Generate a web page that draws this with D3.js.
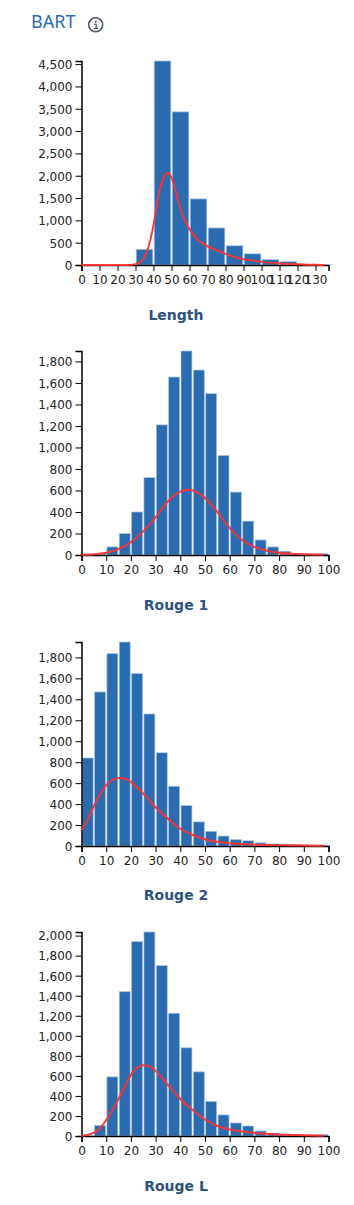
<!DOCTYPE html>
<html>
<head>
<meta charset="utf-8">
<script src="https://cdn.jsdelivr.net/npm/d3@7"></script>
<style>
   html, body { margin: 0; padding: 0; background: #fff; }
   svg { display: block; }
   .tick text { font-family: "DejaVu Sans", sans-serif; font-size: 12px; fill: #222; }
   .axis-label { font-family: "DejaVu Sans", sans-serif; font-size: 14px; font-weight: bold; fill: #2c5282; text-anchor: middle; }
   .title { font-family: "Noto Sans", sans-serif; font-size: 18px; fill: #2b6cb0; }
</style>
</head>
<body>
<div id="data"></div>
<script>
// chart names
const names = ["Length", "Rouge 1", "Rouge 2", "Rouge L"];

// bin start values
const lengthBins = [30, 40, 50, 60, 70, 80, 90, 100, 110, 120, 130];
const rougeBins = [0, 5, 10, 15, 20, 25, 30, 35, 40, 45, 50, 55, 60, 65, 70, 75, 80, 85, 90, 95];

// bar heights
const lengthCounts = [350, 4570, 3430, 1480, 830, 430, 250, 120, 75, 15, 3];
const rouge1Counts = [2, 8, 75, 200, 400, 720, 1210, 1655, 1897, 1720, 1500, 925, 585, 315, 140, 75, 35, 15, 10, 12];
const rouge2Counts = [840, 1470, 1835, 1947, 1645, 1260, 890, 570, 385, 230, 140, 95, 60, 50, 30, 20, 15, 12, 10, 8];
const rougeLCounts = [2, 105, 590, 1440, 1940, 2036, 1700, 1225, 880, 640, 345, 210, 130, 100, 50, 30, 20, 15, 10, 15];

// red curves, x then y
const lengthCurveX = [0, 25, 30, 33, 35, 38, 40, 43, 45, 47, 48, 50, 52, 55, 58, 60, 65, 70, 75, 80, 85, 90, 95, 100, 110, 120, 130, 135];
const lengthCurveY = [0, 0, 20, 80, 180, 520, 900, 1600, 1900, 2050, 2060, 1950, 1700, 1250, 950, 800, 550, 420, 330, 250, 180, 130, 100, 70, 35, 15, 5, 0];
const rouge1CurveX = [0, 5, 10, 15, 20, 25, 30, 35, 40, 43, 45, 50, 55, 60, 65, 70, 75, 80, 85, 90, 98];
const rouge1CurveY = [2, 7, 20, 55, 120, 220, 350, 500, 590, 607, 600, 530, 400, 250, 140, 75, 40, 20, 12, 7, 3];
const rouge2CurveX = [0, 2, 5, 8, 10, 13, 15, 18, 20, 25, 30, 35, 40, 45, 50, 55, 60, 65, 70, 80, 90, 98];
const rouge2CurveY = [150, 230, 380, 510, 580, 635, 650, 640, 610, 500, 370, 260, 165, 105, 65, 40, 27, 18, 12, 7, 4, 2];
const rougeLCurveX = [0, 3, 6, 8, 10, 13, 15, 18, 20, 23, 25, 28, 30, 35, 40, 45, 50, 55, 60, 65, 70, 80, 90, 98];
const rougeLCurveY = [2, 15, 45, 90, 160, 280, 370, 520, 610, 690, 705, 690, 650, 510, 370, 260, 165, 100, 65, 45, 30, 15, 8, 3];

// axis ticks
const lengthXTicks = d3.range(0, 131, 10);
const rougeXTicks = d3.range(0, 101, 10);
const lengthYTicks = d3.range(0, 4501, 500);
const rouge1YTicks = d3.range(0, 1801, 200);
const rouge2YTicks = d3.range(0, 1801, 200);
const rougeLYTicks = d3.range(0, 2001, 200);

// establish sizes
const wide = 354;
const high = 1205;
const left = 81.5;
const plotW = 247;
const plotH = 204;

const svg = d3.select("#data").append("svg").attr("width", wide).attr("height", high);

// title and info icon
svg.append("text").attr("class", "title").attr("x", 31).attr("y", 28).text("BART");
const info = svg.append("g").attr("transform", "translate(95.7,24.8)");
info.append("circle").attr("r", 7).attr("fill", "none").attr("stroke", "#4a5568").attr("stroke-width", 1.6);
info.append("circle").attr("cy", -3).attr("r", 1).attr("fill", "#4a5568");
info.append("path").attr("d", "M-1.5,-0.5H0.5V3.5M-1.5,3.5H2.5").attr("fill", "none").attr("stroke", "#4a5568").attr("stroke-width", 1.2);

function drawChart(cfg) {
   const g = svg.append("g").attr("transform", `translate(${left},${cfg.top})`);

   const x = d3.scaleLinear().domain([0, cfg.xMax]).range([0, plotW]);
   const y = d3.scaleLinear().domain([0, cfg.yMax]).range([plotH, 0]);

   // bars
   g.selectAll("rect")
      .data(cfg.bins)
      .enter()
      .append("rect")
      .attr("x", (d) => x(d) + 0.7)
      .attr("y", (d, i) => y(cfg.counts[i]))
      .attr("width", (d) => x(d + cfg.binW) - x(d) - 1.4)
      .attr("height", (d, i) => plotH - y(cfg.counts[i]))
      .attr("fill", "#2b6cb0")
      .attr("stroke", "#a9c4e4")
      .attr("stroke-width", 0.7);

   // axes
   const xAxis = g.append("g")
      .attr("transform", `translate(0,${plotH})`)
      .call(d3.axisBottom(x).tickValues(cfg.xTicks).tickFormat(d3.format("d")));
   const yAxis = g.append("g")
      .call(d3.axisLeft(y).tickValues(cfg.yTicks).tickFormat(d3.format(",")));
   xAxis.select(".domain").attr("stroke-width", 1.5);
   yAxis.select(".domain").attr("stroke-width", 1.5);
   xAxis.selectAll(".tick text").attr("y", 10);
   yAxis.selectAll(".tick text").attr("dy", "0.36em");

   // red curve
   const line = d3.line()
      .x((d) => x(d))
      .y((d, i) => y(cfg.curveY[i]))
      .curve(d3.curveMonotoneX);
   g.append("path")
      .attr("d", line(cfg.curveX))
      .attr("fill", "none")
      .attr("stroke", "#ff3131")
      .attr("stroke-width", 2)
      .attr("stroke-opacity", 0.95);

   // x label
   svg.append("text")
      .attr("class", "axis-label")
      .attr("x", 176)
      .attr("y", cfg.top + cfg.labelY)
      .text(cfg.name);
}

drawChart({ name: names[0], top: 61, labelY: 259, xMax: 137.2, yMax: 4570, binW: 10, bins: lengthBins, counts: lengthCounts, curveX: lengthCurveX, curveY: lengthCurveY, xTicks: lengthXTicks, yTicks: lengthYTicks });
drawChart({ name: names[1], top: 351, labelY: 259, xMax: 100, yMax: 1897, binW: 5, bins: rougeBins, counts: rouge1Counts, curveX: rouge1CurveX, curveY: rouge1CurveY, xTicks: rougeXTicks, yTicks: rouge1YTicks });
drawChart({ name: names[2], top: 642, labelY: 258, xMax: 100, yMax: 1947, binW: 5, bins: rougeBins, counts: rouge2Counts, curveX: rouge2CurveX, curveY: rouge2CurveY, xTicks: rougeXTicks, yTicks: rouge2YTicks });
drawChart({ name: names[3], top: 932, labelY: 259, xMax: 100, yMax: 2036, binW: 5, bins: rougeBins, counts: rougeLCounts, curveX: rougeLCurveX, curveY: rougeLCurveY, xTicks: rougeXTicks, yTicks: rougeLYTicks });
</script>
</body>
</html>
